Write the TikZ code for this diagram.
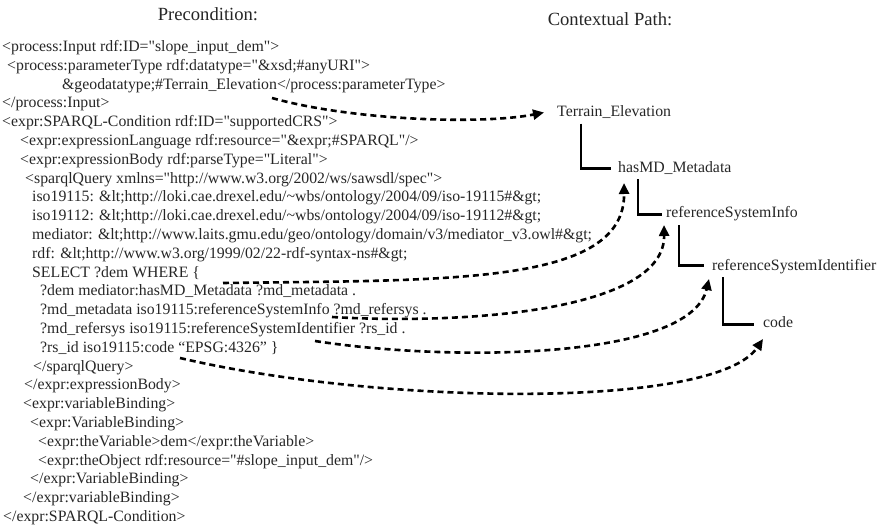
\documentclass[tikz,border=0pt]{standalone}
\usepackage{fontspec}
\setmainfont{Liberation Serif}[Ligatures=TeXOff]
\usetikzlibrary{arrows.meta,calc}
\begin{document}
\begin{tikzpicture}[x=1pt,y=-1pt,
  code/.style={anchor=base west,inner sep=0pt,text=black!85,font=\fontsize{15.8}{19}\selectfont},
  heading/.style={anchor=base,inner sep=0pt,text=black!85,font=\fontsize{18.6}{22}\selectfont},
  treeline/.style={line width=2.8pt,line join=miter},
  link/.style={line width=2.6pt,dash pattern=on 6pt off 4pt,
    -{Triangle[length=11pt,width=10pt]}}
]
\useasboundingbox (0,0) rectangle (877,527);

% headings
\node[heading] (pre) at (208,21) {Precondition:};
\node[heading] (ctx) at (610,26) {Contextual Path:};

% precondition listing
\node[code] (l1)  at (2,51.5)   {<process:Input rdf:ID="slope\_input\_dem">};
\node[code] (l2)  at (7,70.3)   {<process:parameterType rdf:datatype="\&xsd;\#anyURI">};
\node[code] (l3)  at (62,89.1)  {\&geodatatype;\#Terrain\_Elevation</process:parameterType>};
\node[code] (l4)  at (2,107.9)  {</process:Input>};
\node[code] (l5)  at (2,126.7)  {<expr:SPARQL-Condition rdf:ID="supportedCRS">};
\node[code] (l6)  at (20,145.5) {<expr:expressionLanguage rdf:resource="\&expr;\#SPARQL"/>};
\node[code] (l7)  at (20,164.3) {<expr:expressionBody rdf:parseType="Literal">};
\node[code] (l8)  at (25,183.1) {<sparqlQuery xmlns="http://www.w3.org/2002/ws/sawsdl/spec">};
\node[code] (l9)  at (32,201.9) {iso19115: \&lt;http://loki.cae.drexel.edu/\textasciitilde wbs/ontology/2004/09/iso-19115\#\&gt;};
\node[code] (l10) at (32,220.7) {iso19112: \&lt;http://loki.cae.drexel.edu/\textasciitilde wbs/ontology/2004/09/iso-19112\#\&gt;};
\node[code] (l11) at (32,239.5) {mediator: \&lt;http://www.laits.gmu.edu/geo/ontology/domain/v3/mediator\_v3.owl\#\&gt;};
\node[code] (l12) at (32,258.3) {rdf: \&lt;http://www.w3.org/1999/02/22-rdf-syntax-ns\#\&gt;};
\node[code] (l13) at (32,277.1) {SELECT ?dem WHERE \{};
\node[code] (l14) at (40,295.9) {?dem mediator:hasMD\_Metadata ?md\_metadata .};
\node[code] (l15) at (40,314.7) {?md\_metadata iso19115:referenceSystemInfo ?md\_refersys .};
\node[code] (l16) at (40,333.5) {?md\_refersys iso19115:referenceSystemIdentifier ?rs\_id .};
\node[code] (l17) at (40,352.3) {?rs\_id iso19115:code “EPSG:4326” \}};
\node[code] (l18) at (33,371.1) {</sparqlQuery>};
\node[code] (l19) at (24,389.9) {</expr:expressionBody>};
\node[code] (l20) at (23,408.7) {<expr:variableBinding>};
\node[code] (l21) at (30,427.5) {<expr:VariableBinding>};
\node[code] (l22) at (38,446.3) {<expr:theVariable>dem</expr:theVariable>};
\node[code] (l23) at (38,465.1) {<expr:theObject rdf:resource="\#slope\_input\_dem"/>};
\node[code] (l24) at (30,483.9) {</expr:VariableBinding>};
\node[code] (l25) at (23,502.7) {</expr:variableBinding>};
\node[code] (l26) at (3,521.5)  {</expr:SPARQL-Condition>};

% contextual path
\node[code] (te)   at (557,116.5) {Terrain\_Elevation};
\node[code] (md)   at (618,172.5) {hasMD\_Metadata};
\node[code] (rsi)  at (666,217.5) {referenceSystemInfo};
\node[code] (rsid) at (712,270.5) {referenceSystemIdentifier};
\node[code] (cd)   at (763,327.5) {code};

\draw[treeline] ($(te.base west)+(24,7)$)    |- ($(md.base west)+(-7,-4)$);
\draw[treeline] ($(md.base west)+(20,6.5)$)  |- ($(rsi.base west)+(-4,-3)$);
\draw[treeline] ($(rsi.base west)+(13,7.5)$) |- ($(rsid.base west)+(-8,-5)$);
\draw[treeline] ($(rsid.base west)+(11,6.5)$) |- ($(cd.base west)+(-9,-3)$);

% link ends at the listing
\coordinate (s0) at (272,98);
\coordinate (s1) at (223,283);
\coordinate (s2) at (332,317);
\coordinate (s3) at (315,341);
\coordinate (s4) at (180,358);

% link ends at the path
\coordinate (t0) at ($(te.base west)+(-13,-4)$);
\coordinate (t1) at ($(md.base west)+(6,10.5)$);
\coordinate (t2) at ($(rsi.base west)+(-2,7.5)$);
\coordinate (t3) at ($(rsid.base west)+(-3,8.5)$);
\coordinate (t4) at ($(cd.base west)+(0,11.5)$);

\draw[link] (s0) .. controls (350,120) and (480,125) .. (t0);
\draw[link] (s1) .. controls (450,280) and (625,285) .. (t1);
\draw[link] (s2) .. controls (470,325) and (665,310) .. (t2);
\draw[link] (s3) .. controls (450,362) and (690,360) .. (t3);
\draw[link] (s4) .. controls (380,405) and (715,410) .. (t4);
\end{tikzpicture}
\end{document}
